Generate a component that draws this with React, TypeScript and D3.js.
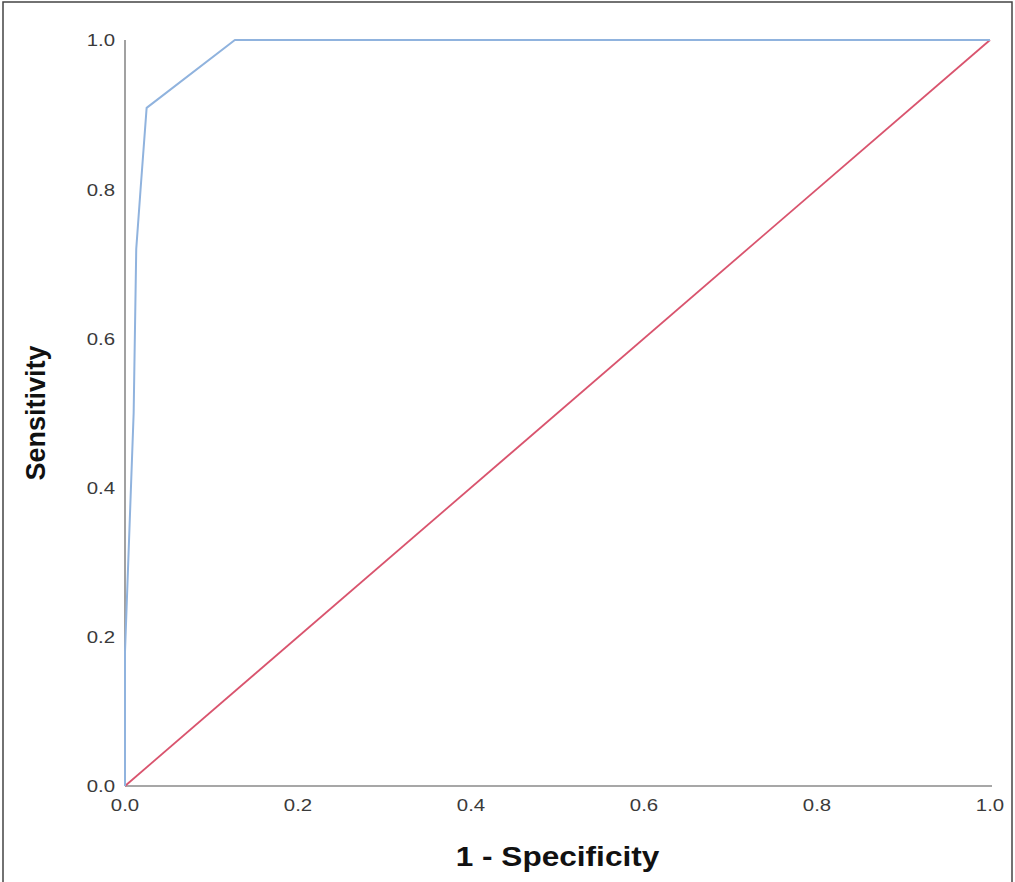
import React from "react";
import * as d3 from "d3";

// ROC curve points: [1 - specificity, sensitivity]
const fpr = [0, 0, 0.01, 0.013, 0.018, 0.025, 0.127, 1];
const tpr = [0, 0.18, 0.5, 0.72, 0.8, 0.909, 1, 1];
const refLine = [0, 1];
const ticks = [0, 0.2, 0.4, 0.6, 0.8, 1.0];

const W = 1015;
const H = 882;
const margin = { left: 125, right: 25, top: 40, bottom: 96 };
// the source image is a bit wider than it is tall, text looks stretched
const stretch = 1.2;

export default function App() {
  const x = d3.scaleLinear().domain([0, 1]).range([margin.left, W - margin.right]);
  const y = d3.scaleLinear().domain([0, 1]).range([H - margin.bottom, margin.top]);

  const line = d3
    .line<number>()
    .x((d, i) => x(fpr[i]))
    .y(d => y(d));

  const diag = d3
    .line<number>()
    .x(d => x(d))
    .y(d => y(d));

  return (
    <svg
      width={W}
      height={H}
      style={{ position: "absolute", left: 0, top: 0, background: "#fff" }}
      fontFamily="Liberation Sans, Arial, sans-serif"
    >
      {/* outer frame */}
      <rect x={3} y={2} width={1009} height={H + 10} fill="none" stroke="#444" strokeWidth={1.5} />

      {/* axes */}
      <line x1={x(0)} x2={x(0)} y1={y(1)} y2={y(0)} stroke="#8a8a8a" strokeWidth={1.6} />
      <line x1={x(0)} x2={x(1) + 2} y1={y(0)} y2={y(0)} stroke="#8a8a8a" strokeWidth={1.6} />

      {ticks.map(t => (
        <text
          key={"y" + t}
          transform={`translate(${x(0) - 10},${y(t) + 2}) scale(${stretch},1)`}
          textAnchor="end"
          dominantBaseline="middle"
          fontSize={17}
          fill="#3a3a3a"
        >
          {t.toFixed(1)}
        </text>
      ))}
      {ticks.map(t => (
        <text
          key={"x" + t}
          transform={`translate(${x(t)},${y(0) + 21}) scale(${stretch},1)`}
          textAnchor="middle"
          dominantBaseline="middle"
          fontSize={17}
          fill="#3a3a3a"
        >
          {t.toFixed(1)}
        </text>
      ))}

      {/* reference diagonal */}
      <path d={diag(refLine) || ""} fill="none" stroke="#d9546e" strokeWidth={1.8} />

      {/* ROC curve */}
      <path d={line(tpr) || ""} fill="none" stroke="#90b3de" strokeWidth={2} strokeLinejoin="round" />

      {/* axis titles */}
      <text
        transform={`translate(${(x(0) + x(1)) / 2},859) scale(1.17,1)`}
        textAnchor="middle"
        dominantBaseline="middle"
        fontSize={27}
        fontWeight="bold"
        fill="#111"
      >
        1 - Specificity
      </text>
      <text
        transform={`translate(38,${(y(0) + y(1)) / 2}) rotate(-90)`}
        textAnchor="middle"
        dominantBaseline="middle"
        fontSize={27}
        fontWeight="bold"
        fill="#111"
      >
        Sensitivity
      </text>
    </svg>
  );
}
